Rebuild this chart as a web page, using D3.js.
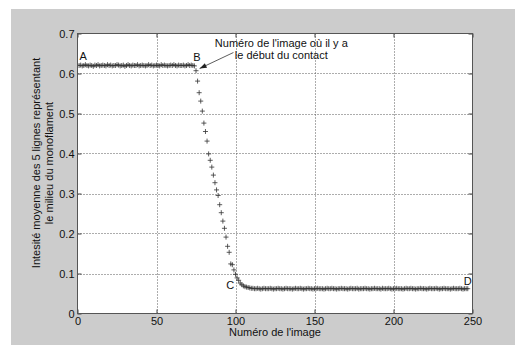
<!DOCTYPE html>
<html>
<head>
<meta charset="utf-8">
<script src="https://cdn.jsdelivr.net/npm/d3@7"></script>
<style>
  html, body { margin: 0; padding: 0; background: #fff; }
  svg { display: block; font-family: "Liberation Sans", Arial, sans-serif; }
</style>
</head>
<body>
<svg id="chart" width="515" height="345"></svg>
<script>
// ---------- data ----------
const xTicks = [0, 50, 100, 150, 200, 250];
const yTicks = [0, 0.1, 0.2, 0.3, 0.4, 0.5, 0.6, 0.7];
const yTickLabels = ["0", "0.1", "0.2", "0.3", "0.4", "0.5", "0.6", "0.7"];

// plateau before contact (image 1 .. 74)
const plateauBefore = [
  0.620,0.621,0.619,0.620,0.622,0.620,0.619,0.621,0.620,0.618,
  0.621,0.620,0.622,0.619,0.620,0.621,0.620,0.619,0.622,0.620,
  0.621,0.619,0.620,0.620,0.622,0.621,0.619,0.620,0.621,0.618,
  0.620,0.622,0.620,0.619,0.621,0.620,0.620,0.622,0.619,0.620,
  0.621,0.620,0.619,0.620,0.622,0.620,0.621,0.619,0.620,0.621,
  0.620,0.619,0.622,0.620,0.621,0.620,0.619,0.620,0.621,0.620,
  0.622,0.620,0.619,0.621,0.620,0.620,0.621,0.619,0.620,0.622,
  0.620,0.621,0.620,0.619
];
// decrease (image 75 .. 110)
const descent = [
  0.607,0.581,0.552,0.531,0.506,0.476,0.455,0.431,0.399,0.383,
  0.366,0.346,0.327,0.309,0.295,0.272,0.252,0.231,0.213,0.191,
  0.168,0.153,0.124,0.122,0.109,0.098,0.089,0.083,0.076,0.072,
  0.069,0.067,0.066,0.065,0.064,0.063
];
// plateau after contact (image 111 .. 247)
const plateauAfter = [
  0.063,0.062,0.062,0.063,0.062,0.061,0.062,0.063,0.062,0.062,
  0.062,0.063,0.062,0.061,0.062,0.062,0.063,0.062,0.062,0.061,
  0.062,0.063,0.062,0.062,0.062,0.061,0.062,0.063,0.062,0.062,
  0.063,0.062,0.061,0.062,0.062,0.063,0.062,0.062,0.061,0.062,
  0.062,0.063,0.062,0.062,0.062,0.061,0.062,0.063,0.062,0.062,
  0.063,0.062,0.062,0.061,0.062,0.062,0.063,0.062,0.062,0.062,
  0.061,0.062,0.063,0.062,0.062,0.062,0.063,0.061,0.062,0.062,
  0.062,0.063,0.062,0.062,0.061,0.062,0.062,0.063,0.062,0.062,
  0.062,0.061,0.063,0.062,0.062,0.062,0.063,0.062,0.061,0.062,
  0.062,0.063,0.062,0.062,0.062,0.061,0.062,0.063,0.062,0.062,
  0.063,0.062,0.062,0.061,0.062,0.062,0.063,0.062,0.062,0.062,
  0.061,0.062,0.063,0.062,0.062,0.062,0.063,0.062,0.061,0.062,
  0.062,0.063,0.062,0.062,0.062,0.061,0.062,0.063,0.062,0.062,
  0.062,0.063,0.062,0.061,0.062,0.062,0.062
];
const firstImage = 1;
const intensities = plateauBefore.concat(descent, plateauAfter);

const pointLabels = [
  { name: "A", x: 1.3,   y: 0.635 },
  { name: "B", x: 73.2,  y: 0.632 },
  { name: "C", x: 94.1,  y: 0.0625 },
  { name: "D", x: 244.5, y: 0.0725 }
];
const noteLines = ["Numéro de l'image où il y a", "le début du contact"];
const notePos = { x: 129, y1: 0.6675, y2: 0.6375 };
const arrowFrom = { x: 98.7, y: 0.6525 };
const arrowTo = { x: 77.3, y: 0.6125 };

const xLabel = "Numéro de l'image";
const yLabelLines = ["Intesité moyenne des 5 lignes représentant", "le milieu du monoflament"];

// ---------- layout ----------
const W = 515, H = 345;
const plot = { left: 77.5, right: 472.5, top: 33.5, bottom: 313.5 };

const svg = d3.select("#chart");
svg.append("rect").attr("x", 0).attr("y", 0).attr("width", W).attr("height", H).attr("fill", "#fff");
svg.append("rect").attr("x", 11).attr("y", 9).attr("width", W - 11).attr("height", H - 9).attr("fill", "#cccccc");
svg.append("rect")
  .attr("x", plot.left).attr("y", plot.top)
  .attr("width", plot.right - plot.left).attr("height", plot.bottom - plot.top)
  .attr("fill", "#fff");

const x = d3.scaleLinear().domain([0, 250]).range([plot.left, plot.right]);
const y = d3.scaleLinear().domain([0, 0.7]).range([plot.bottom, plot.top]);

// grid
const grid = svg.append("g").attr("stroke", "#333").attr("stroke-width", 1)
  .attr("stroke-dasharray", "1,2").attr("opacity", 0.8);
grid.selectAll("line.gx").data(xTicks.filter(d => d > 0 && d < 250)).enter().append("line")
  .attr("x1", d => Math.round(x(d)) + 0.5).attr("x2", d => Math.round(x(d)) + 0.5)
  .attr("y1", plot.top).attr("y2", plot.bottom);
grid.selectAll("line.gy").data(yTicks.filter(d => d > 0 && d < 0.7)).enter().append("line")
  .attr("y1", d => Math.round(y(d)) + 0.5).attr("y2", d => Math.round(y(d)) + 0.5)
  .attr("x1", plot.left).attr("x2", plot.right);

// clip
svg.append("clipPath").attr("id", "clip").append("rect")
  .attr("x", plot.left).attr("y", plot.top)
  .attr("width", plot.right - plot.left).attr("height", plot.bottom - plot.top);

// data markers
const plus = "M-2.5,0H2.5M0,-2.5V2.5";
svg.append("g").attr("clip-path", "url(#clip)")
  .selectAll("path").data(intensities).enter().append("path")
  .attr("d", plus)
  .attr("transform", (d, i) => `translate(${x(firstImage + i)},${y(d)})`)
  .attr("fill", "none").attr("stroke", "#333").attr("stroke-width", 0.8);

// axes
function styleAxis(g, showText) {
  g.select(".domain").remove();
  g.selectAll(".tick line").attr("stroke", "#444");
  g.selectAll(".tick text").attr("fill", "#111").style("font-size", "11px")
    .style("font-family", "'Liberation Sans', Arial, sans-serif");
  if (!showText) g.selectAll(".tick text").remove();
}
svg.append("g").attr("transform", `translate(0,${plot.bottom})`)
  .call(d3.axisBottom(x).tickValues(xTicks).tickSize(-4).tickPadding(4).tickFormat(d3.format("d")))
  .call(g => styleAxis(g, true));
svg.append("g").attr("transform", `translate(0,${plot.top})`)
  .call(d3.axisTop(x).tickValues(xTicks).tickSize(-4))
  .call(g => styleAxis(g, false));
svg.append("g").attr("transform", `translate(${plot.left},0)`)
  .call(d3.axisLeft(y).tickValues(yTicks).tickSize(-4).tickPadding(3)
    .tickFormat((d, i) => yTickLabels[i]))
  .call(g => styleAxis(g, true));
svg.append("g").attr("transform", `translate(${plot.right},0)`)
  .call(d3.axisRight(y).tickValues(yTicks).tickSize(-4))
  .call(g => styleAxis(g, false));

// box
svg.append("rect")
  .attr("x", plot.left).attr("y", plot.top)
  .attr("width", plot.right - plot.left).attr("height", plot.bottom - plot.top)
  .attr("fill", "none").attr("stroke", "#555").attr("stroke-width", 1);

// point letters
svg.append("g").selectAll("text").data(pointLabels).enter().append("text")
  .attr("x", d => x(d.x)).attr("y", d => y(d.y))
  .attr("font-size", 11).attr("fill", "#111").text(d => d.name);

// annotation
svg.append("text").attr("x", x(notePos.x)).attr("y", y(notePos.y1))
  .attr("text-anchor", "middle").attr("font-size", 11).attr("fill", "#111").text(noteLines[0]);
svg.append("text").attr("x", x(notePos.x)).attr("y", y(notePos.y2))
  .attr("text-anchor", "middle").attr("font-size", 11).attr("fill", "#111").text(noteLines[1]);

const ax1 = x(arrowFrom.x), ay1 = y(arrowFrom.y), ax2 = x(arrowTo.x), ay2 = y(arrowTo.y);
svg.append("line").attr("x1", ax1).attr("y1", ay1).attr("x2", ax2).attr("y2", ay2)
  .attr("stroke", "#333").attr("stroke-width", 0.8);
const ang = Math.atan2(ay2 - ay1, ax2 - ax1) * 180 / Math.PI;
svg.append("path").attr("d", "M0,0L-7,-2.6L-7,2.6Z")
  .attr("transform", `translate(${ax2},${ay2}) rotate(${ang})`)
  .attr("fill", "#222");

// axis labels
svg.append("text").attr("x", (plot.left + plot.right) / 2).attr("y", 336)
  .attr("text-anchor", "middle").attr("font-size", 11).attr("fill", "#111").text(xLabel);
svg.append("text").attr("transform", "translate(40,163) rotate(-90)")
  .attr("text-anchor", "middle").attr("font-size", 11).attr("fill", "#111").text(yLabelLines[0]);
svg.append("text").attr("transform", "translate(53,163) rotate(-90)")
  .attr("text-anchor", "middle").attr("font-size", 11).attr("fill", "#111").text(yLabelLines[1]);
</script>
</body>
</html>
